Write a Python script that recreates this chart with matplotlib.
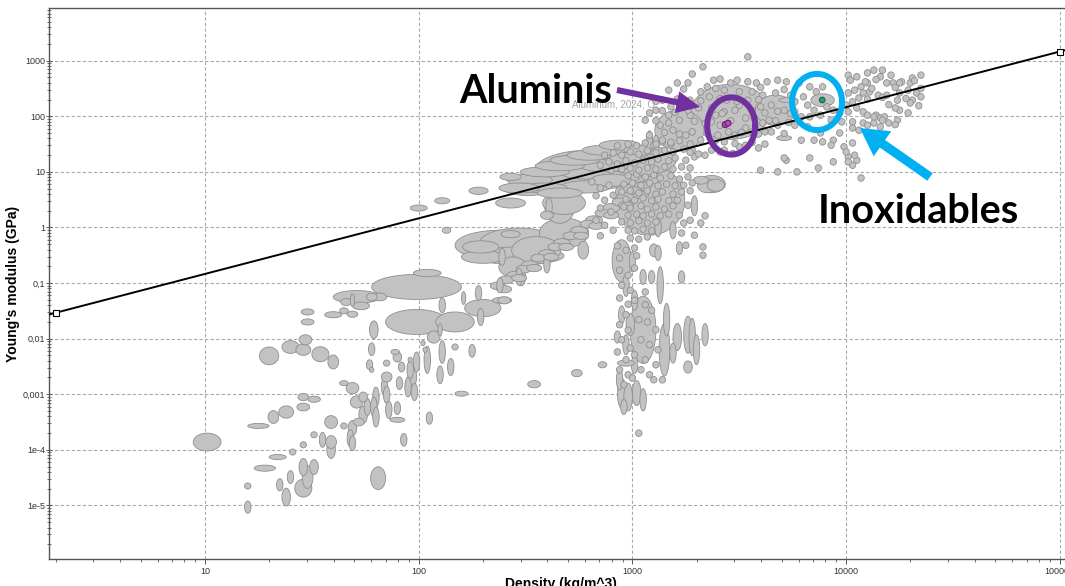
import numpy as np
import matplotlib
matplotlib.use("Agg")
import matplotlib.pyplot as plt
from matplotlib.ticker import FixedLocator, FixedFormatter, LogLocator, NullFormatter

# ---------------------------------------------------------------------------
# Material property envelopes.
# Each entry: (log10 density [kg/m^3], log10 Young's modulus [GPa],
#              density span [decades], modulus span [decades])
# ---------------------------------------------------------------------------
foams_and_fibres = [
    (1.01, -3.86, 0.13, 0.32), (1.20, -4.65, 0.03, 0.11), (1.20, -5.03, 0.03, 0.22),
    (1.28, -4.33, 0.10, 0.11), (1.34, -4.13, 0.08, 0.09), (1.35, -4.63, 0.03, 0.22),
    (1.38, -4.85, 0.04, 0.32), (1.41, -4.04, 0.03, 0.11), (1.40, -4.49, 0.03, 0.23),
    (1.46, -4.69, 0.08, 0.32), (1.48, -4.49, 0.05, 0.41), (1.46, -4.31, 0.04, 0.31),
    (1.51, -4.31, 0.04, 0.27), (1.46, -3.91, 0.03, 0.11), (1.51, -3.73, 0.03, 0.11),
    (1.55, -3.82, 0.03, 0.27), (1.59, -3.86, 0.05, 0.23), (1.59, -4.00, 0.04, 0.31),
    (1.59, -3.50, 0.06, 0.23), (1.65, -3.57, 0.03, 0.11), (1.65, -2.80, 0.04, 0.09),
    (1.69, -2.89, 0.06, 0.20), (1.71, -3.14, 0.06, 0.22), (1.81, -4.51, 0.07, 0.41),
    (1.25, -3.57, 0.10, 0.09), (1.32, -3.41, 0.05, 0.23), (1.38, -3.32, 0.07, 0.22),
    (1.46, -3.23, 0.06, 0.14), (1.46, -3.05, 0.05, 0.13), (1.51, -3.09, 0.06, 0.11),
    (1.30, -2.31, 0.09, 0.32), (1.40, -2.15, 0.08, 0.23), (1.47, -2.02, 0.06, 0.18),
    (1.46, -2.20, 0.07, 0.20), (1.54, -2.28, 0.08, 0.27), (1.60, -2.42, 0.05, 0.25),
    (1.48, -1.52, 0.06, 0.11), (1.48, -1.70, 0.06, 0.11), (1.60, -1.57, 0.08, 0.11),
    (1.65, -1.50, 0.04, 0.11), (1.69, -1.56, 0.05, 0.11), (1.69, -1.31, 0.02, 0.23),
    (1.73, -1.41, 0.08, 0.14), (1.66, -1.34, 0.05, 0.13), (1.71, -1.25, 0.22, 0.23),
    (1.78, -1.25, 0.05, 0.14), (1.82, -1.25, 0.06, 0.14), (1.99, -1.07, 0.42, 0.45),
    (2.04, -0.82, 0.13, 0.13), (1.99, -1.70, 0.29, 0.45), (2.17, -1.70, 0.18, 0.36),
    (1.79, -1.84, 0.04, 0.32), (1.78, -2.19, 0.03, 0.23), (1.77, -2.47, 0.03, 0.18),
    (1.78, -2.56, 0.02, 0.09), (1.85, -2.44, 0.03, 0.11), (1.89, -2.24, 0.04, 0.09),
    (1.90, -2.33, 0.04, 0.18), (1.96, -2.38, 0.02, 0.09), (1.92, -2.51, 0.03, 0.18),
    (1.96, -2.56, 0.03, 0.32), (1.99, -2.42, 0.03, 0.36), (2.04, -2.38, 0.03, 0.49),
    (2.11, -2.24, 0.03, 0.41), (2.10, -2.65, 0.03, 0.32), (2.15, -2.51, 0.03, 0.31),
    (2.25, -2.22, 0.03, 0.23), (2.17, -2.15, 0.03, 0.11), (2.07, -1.97, 0.06, 0.22),
    (2.02, -2.08, 0.02, 0.09), (2.03, -2.20, 0.02, 0.09), (2.10, -1.84, 0.02, 0.22),
    (2.11, -1.40, 0.03, 0.27), (2.28, -1.18, 0.03, 0.27), (2.21, -1.27, 0.02, 0.23),
    (2.30, -1.45, 0.17, 0.31), (2.29, -1.61, 0.03, 0.31), (2.39, -1.31, 0.09, 0.11),
    (2.38, -1.04, 0.03, 0.27), (2.47, -0.89, 0.03, 0.31), (1.85, -2.69, 0.05, 0.18),
    (1.84, -2.87, 0.03, 0.31), (1.85, -3.01, 0.03, 0.31), (1.80, -3.05, 0.03, 0.36),
    (1.79, -3.23, 0.03, 0.36), (1.76, -3.23, 0.03, 0.31), (1.80, -3.41, 0.03, 0.36),
    (1.86, -3.28, 0.03, 0.31), (1.90, -3.25, 0.03, 0.23), (1.90, -3.46, 0.07, 0.09),
    (1.74, -3.37, 0.04, 0.31), (1.72, -3.50, 0.05, 0.14), (1.69, -3.61, 0.04, 0.27),
    (1.68, -3.79, 0.03, 0.31), (1.69, -3.88, 0.03, 0.27), (1.74, -3.05, 0.04, 0.18),
    (1.95, -2.87, 0.03, 0.36), (1.97, -2.69, 0.04, 0.36), (1.98, -2.96, 0.03, 0.31),
    (1.93, -3.82, 0.03, 0.23), (2.05, -3.43, 0.03, 0.22), (2.20, -2.99, 0.06, 0.09),
    (1.91, -2.80, 0.03, 0.23), (2.54, -2.82, 0.06, 0.13), (2.74, -2.62, 0.05, 0.13),
    (2.86, -2.47, 0.04, 0.11),
]

natural_and_composites = [
    (2.00, 0.35, 0.08, 0.11), (2.11, 0.48, 0.07, 0.11), (2.28, 0.66, 0.09, 0.13),
    (2.43, 0.91, 0.10, 0.13), (2.13, -0.05, 0.04, 0.11), (2.51, 0.69, 0.22, 0.23),
    (2.52, 0.85, 0.21, 0.22), (2.59, 1.00, 0.23, 0.18), (2.66, 1.11, 0.23, 0.18),
    (2.73, 1.21, 0.23, 0.18), (2.80, 1.30, 0.21, 0.18), (2.87, 1.39, 0.21, 0.18),
    (2.94, 1.48, 0.19, 0.18), (2.59, 0.71, 0.21, 0.18), (2.68, 0.85, 0.26, 0.22),
    (2.78, 0.98, 0.23, 0.22), (2.87, 1.11, 0.23, 0.22), (2.97, 1.25, 0.21, 0.22),
    (3.04, 1.39, 0.16, 0.18), (2.47, 0.71, 0.19, 0.18), (2.66, 0.62, 0.21, 0.18),
    (2.78, 0.73, 0.23, 0.22), (2.90, 0.85, 0.19, 0.22), (3.08, 1.54, 0.03, 0.40),
    (3.11, 1.48, 0.03, 0.36), (2.80, 1.03, 0.51, 0.72),
    (2.38, -0.32, 0.42, 0.54), (2.47, -0.51, 0.42, 0.32), (2.43, -0.12, 0.09, 0.13),
    (2.29, -0.35, 0.17, 0.22), (2.30, -0.53, 0.20, 0.23), (2.44, -0.71, 0.13, 0.36),
    (2.55, -0.41, 0.23, 0.49), (2.47, -0.28, 0.37, 0.54), (2.68, -0.10, 0.23, 0.54),
    (2.68, 0.44, 0.20, 0.41), (2.66, 0.37, 0.14, 0.59), (2.77, -0.41, 0.05, 0.32),
    (2.61, 0.37, 0.03, 0.32), (2.60, -0.66, 0.03, 0.32), (2.48, -0.89, 0.04, 0.32),
    (2.39, -0.53, 0.03, 0.31), (2.40, -1.31, 0.06, 0.13), (2.60, 0.22, 0.06, 0.15),
    (2.43, 0.44, 0.14, 0.18),
    # woods, along the grain / across the grain
    (2.37, -1.05, 0.07, 0.14), (2.41, -0.94, 0.07, 0.14), (2.45, -0.87, 0.08, 0.16),
    (2.49, -0.75, 0.07, 0.14), (2.52, -0.68, 0.08, 0.16), (2.56, -0.55, 0.07, 0.14),
    (2.60, -0.48, 0.08, 0.16), (2.64, -0.35, 0.07, 0.14), (2.67, -0.28, 0.08, 0.16),
    (2.71, -0.15, 0.07, 0.14), (2.75, -0.06, 0.08, 0.16), (2.79, 0.06, 0.07, 0.14),
    (2.82, 0.13, 0.08, 0.16), (2.86, 0.26, 0.07, 0.14), (2.90, 0.35, 0.08, 0.16),
    (2.94, 0.46, 0.07, 0.14), (2.97, 0.55, 0.08, 0.16), (3.01, 0.66, 0.07, 0.14),
    (3.05, 0.75, 0.08, 0.16), (3.09, 0.85, 0.07, 0.14),
    (2.40, -1.11, 0.07, 0.13), (2.47, -0.91, 0.07, 0.13), (2.54, -0.73, 0.07, 0.13),
    (2.62, -0.53, 0.07, 0.13), (2.69, -0.35, 0.07, 0.13), (2.76, -0.15, 0.07, 0.13),
    (2.83, 0.03, 0.07, 0.13), (2.90, 0.22, 0.07, 0.13), (2.97, 0.40, 0.07, 0.13),
    (3.04, 0.58, 0.07, 0.13),
]

polymers_and_elastomers = [
    (3.08, 0.49, 0.33, 1.26), (3.04, 1.21, 0.33, 0.54),
    (2.95, -0.60, 0.09, 0.76), (3.05, -1.84, 0.12, 1.21), (3.15, -2.20, 0.05, 0.95),
    (3.16, -1.66, 0.03, 0.59), (3.13, -1.04, 0.03, 0.67), (3.19, -2.26, 0.03, 0.36),
    (3.21, -1.97, 0.04, 0.49), (3.26, -1.93, 0.04, 0.67), (3.28, -1.97, 0.03, 0.67),
    (3.30, -2.20, 0.03, 0.54), (3.34, -1.93, 0.03, 0.40), (3.26, -2.51, 0.04, 0.22),
    (3.29, 0.39, 0.03, 0.36), (3.19, -0.05, 0.03, 0.31), (3.22, -0.37, 0.03, 0.23),
    (3.23, -0.89, 0.03, 0.22), (2.93, -1.97, 0.03, 0.22), (2.95, -2.98, 0.04, 0.54),
    (2.98, -3.05, 0.04, 0.50), (3.02, -2.98, 0.04, 0.45), (3.05, -3.10, 0.03, 0.40),
    (2.96, -3.23, 0.03, 0.27), (2.97, -2.44, 0.08, 0.11), (3.12, 0.01, 0.03, 0.36),
    (3.12, -0.46, 0.03, 0.27), (3.05, -0.89, 0.03, 0.27), (3.09, -0.89, 0.03, 0.23),
    (3.10, -0.41, 0.04, 0.23), (3.37, 0.78, 0.13, 0.31), (3.35, 0.75, 0.09, 0.25),
    (3.39, 0.76, 0.08, 0.22), (3.32, 0.85, 0.07, 0.14),
    (3.00, -0.62, 0.03, 0.36), (2.97, -1.04, 0.03, 0.40), (3.01, -1.31, 0.03, 0.36),
    (2.95, -1.57, 0.03, 0.32), (2.99, -1.75, 0.04, 0.40), (2.97, -2.11, 0.03, 0.36),
    (3.01, -2.47, 0.03, 0.32), (2.94, -2.74, 0.03, 0.36),
]

metals_and_ceramics = [
    (3.46, 2.08, 0.37, 0.99), (3.22, 1.75, 0.23, 0.72), (3.67, 2.11, 0.19, 0.54),
    (3.73, 2.29, 0.09, 0.09), (3.71, 1.61, 0.07, 0.09), (3.89, 2.29, 0.11, 0.23),
]

# Individual grades with narrow property ranges: (log10 density, log10 modulus)
polymer_grades = [
    (2.98, 0.93), (3.02, 0.96), (3.06, 0.91), (3.10, 0.94), (3.13, 0.89), (3.18, 0.93),
    (3.22, 0.87), (3.26, 0.91), (2.96, 0.78), (3.00, 0.80), (3.04, 0.76), (3.08, 0.80),
    (3.12, 0.75), (3.16, 0.78), (3.20, 0.75), (3.24, 0.76), (3.28, 0.80), (2.95, 0.64),
    (2.99, 0.66), (3.03, 0.62), (3.07, 0.66), (3.11, 0.60), (3.14, 0.64), (3.19, 0.60),
    (3.23, 0.64), (3.27, 0.66), (2.97, 0.51), (3.01, 0.49), (3.05, 0.53), (3.09, 0.48),
    (3.12, 0.51), (3.17, 0.48), (3.21, 0.49), (2.96, 0.37), (2.99, 0.35), (3.04, 0.39),
    (3.07, 0.33), (3.11, 0.37), (3.15, 0.33), (3.19, 0.39), (2.98, 0.22), (3.02, 0.24),
    (3.05, 0.21), (3.09, 0.24), (3.13, 0.21), (3.17, 0.24), (2.95, 0.10), (2.99, 0.08),
    (3.03, 0.12), (3.07, 0.08), (3.11, 0.10), (2.98, -0.05), (3.01, -0.06), (3.05, -0.03),
    (3.09, -0.06), (2.99, -0.19), (3.03, -0.21), (3.07, -0.17),
    (2.85, 1.12), (2.89, 1.18), (2.93, 1.14), (2.97, 1.20), (3.01, 1.16), (3.05, 1.21),
    (3.09, 1.18), (3.12, 1.23), (3.17, 1.20), (3.20, 1.25), (3.25, 1.21), (3.29, 1.27),
    (2.90, 1.03), (2.95, 1.05), (2.99, 1.07), (3.03, 1.03), (3.07, 1.07), (3.11, 1.05),
    (3.15, 1.09), (3.19, 1.05), (3.23, 1.09), (3.27, 1.07), (2.87, 1.30), (2.91, 1.34),
    (2.95, 1.30), (2.99, 1.36), (3.03, 1.32), (3.07, 1.38), (3.11, 1.34), (3.15, 1.39),
    (3.19, 1.36), (3.24, 1.41), (3.28, 1.39), (2.93, 1.47), (2.98, 1.50), (3.02, 1.47),
    (3.06, 1.52), (3.10, 1.48), (3.14, 1.54), (3.18, 1.50), (3.22, 1.56),
    (2.81, 0.82), (2.85, 0.71), (2.89, 0.76), (2.83, 0.57), (2.87, 0.49), (2.91, 0.58),
    (2.85, 0.35), (2.90, 0.28), (2.83, 0.13), (2.87, 0.04), (2.91, -0.05), (2.85, -0.15),
    (2.93, -0.33), (2.97, -0.41), (3.01, -0.37), (2.94, -0.55), (3.02, -0.51), (2.94, -0.77),
    (2.98, -0.86), (3.01, -0.73), (2.95, -1.04), (2.99, -1.13), (2.94, -1.27), (2.98, -1.38),
    (2.97, -1.57), (2.94, -1.75), (2.98, -1.85), (2.95, -2.02), (2.99, -2.17), (2.93, -2.24),
    (2.97, -2.38), (2.94, -2.56), (2.98, -2.65), (2.96, -2.83),
    (3.01, -1.31), (3.06, -1.39), (3.09, -1.49), (3.03, -1.66), (3.07, -1.70), (3.11, -1.84),
    (3.04, -2.02), (3.08, -2.11), (3.01, -2.29), (3.06, -2.38), (3.11, -2.47), (3.04, -2.56),
    (3.08, -2.65), (3.00, -2.71), (3.12, -2.20), (3.06, -1.16),
    (3.23, -0.10), (3.24, 0.08), (3.22, 0.22), (3.32, 0.08), (3.34, 0.21), (3.33, -0.35),
    (3.33, -0.50), (3.10, -2.74), (3.14, -2.74), (3.03, -3.70),
    (3.26, 0.40), (3.27, 0.13), (3.29, -0.14), (3.25, -0.32),
]

metal_ceramic_grades = [
    (3.54, 3.07), (3.33, 2.89), (3.28, 2.76), (3.26, 2.60), (3.21, 2.60), (3.17, 2.47),
    (3.38, 2.65), (3.41, 2.67), (3.46, 2.60), (3.49, 2.65), (3.54, 2.62), (3.58, 2.60),
    (3.63, 2.62), (3.68, 2.65), (3.72, 2.62), (3.78, 2.60), (3.83, 2.53), (3.89, 2.53),
    (3.43, 2.47), (3.50, 2.44), (3.56, 2.44), (3.61, 2.38), (3.67, 2.42), (3.74, 2.38),
    (3.32, 2.44), (3.36, 2.35), (3.27, 2.29), (3.22, 2.20), (3.31, 2.15), (3.37, 2.15),
    (3.54, 2.29), (3.60, 2.17), (3.65, 2.20), (3.71, 2.11), (3.76, 2.08), (3.57, 1.97),
    (3.64, 1.93), (3.68, 1.84), (3.62, 1.72), (3.56, 1.72), (3.53, 1.48), (3.59, 1.43),
    (3.27, 2.02), (3.22, 1.93), (3.17, 2.02), (3.13, 1.84), (3.19, 1.75), (3.25, 1.66),
    (3.32, 1.57), (3.14, 1.57), (3.08, 1.66), (3.11, 2.11), (3.06, 1.93), (3.14, 2.29),
    (3.18, 2.17), (3.39, 1.57), (3.37, 1.39), (3.34, 1.30), (3.43, 1.39), (3.50, 1.45),
    (3.39, 2.02), (3.43, 2.08), (3.48, 2.11), (3.53, 1.97), (3.41, 1.84), (3.48, 1.66),
    (3.53, 1.79), (3.45, 1.72), (3.40, 1.66), (3.50, 2.20), (3.44, 2.29), (3.37, 1.90),
    (3.80, 2.35), (3.86, 2.44), (3.82, 2.20), (3.85, 2.11), (3.91, 2.17), (3.94, 2.11),
    (3.79, 1.99), (3.83, 1.99), (3.88, 2.02), (3.93, 1.93), (3.76, 1.84), (3.82, 1.81),
    (3.79, 1.57), (3.85, 1.57), (3.88, 1.70), (3.89, 1.54), (3.94, 1.57), (3.97, 1.70),
    (3.99, 1.45), (4.03, 1.52), (4.01, 1.27), (4.05, 1.21), (4.03, 1.12), (3.72, 1.21),
    (3.83, 1.25), (3.87, 1.07), (3.68, 1.00), (3.77, 1.00), (3.94, 1.18), (4.01, 1.18),
    (4.07, 0.89), (4.00, 1.36), (4.04, 1.30), (3.71, 1.25), (3.93, 1.48), (4.06, 1.75),
    (3.60, 1.03),
    (3.24, 2.49), (3.35, 2.53), (3.39, 2.50), (3.60, 2.52), (3.71, 2.48),
    (3.11, 2.27), (3.21, 2.31), (3.32, 2.28), (3.41, 2.32), (3.49, 2.27), (3.59, 2.30),
    (3.76, 2.26), (3.08, 2.06), (3.14, 2.10), (3.20, 2.07), (3.26, 2.11), (3.42, 2.05),
    (3.56, 2.10), (3.62, 2.06), (3.68, 2.09), (3.74, 2.05), (3.11, 1.92), (3.17, 1.88),
    (3.29, 1.91), (3.34, 1.87), (3.46, 1.92), (3.61, 1.88), (3.67, 1.92), (3.73, 1.89),
    (3.15, 1.71), (3.22, 1.68), (3.28, 1.72), (3.35, 1.69), (3.51, 1.71), (3.59, 1.68),
    (3.65, 1.72), (3.71, 1.69), (3.11, 1.50), (3.18, 1.53), (3.27, 1.50), (3.43, 1.54),
    (3.48, 1.51), (3.56, 1.53), (3.62, 1.50), (3.27, 1.35), (3.31, 1.32), (3.41, 1.36),
    (3.47, 1.33),
    (4.01, 2.74), (4.05, 2.71), (4.10, 2.78), (4.13, 2.83), (4.17, 2.83), (4.21, 2.74),
    (4.10, 2.60), (4.07, 2.53), (4.08, 2.42), (4.22, 2.60), (4.26, 2.62), (4.30, 2.60),
    (4.35, 2.74), (4.31, 2.69), (4.29, 2.47), (4.33, 2.42), (4.25, 2.42), (4.24, 2.29),
    (4.31, 2.29), (4.30, 2.24), (4.29, 2.06), (4.25, 2.11), (4.23, 2.15), (4.19, 2.38),
    (4.15, 2.38), (4.11, 2.44), (4.04, 2.47), (4.01, 2.42), (4.03, 2.26), (4.05, 2.15),
    (4.01, 2.08), (3.97, 2.06), (3.98, 1.90), (4.03, 1.90), (4.03, 1.79), (4.08, 2.08),
    (4.10, 2.02), (4.14, 2.02), (4.16, 1.97), (4.18, 1.99), (4.20, 1.88), (4.16, 1.81),
    (4.13, 1.88), (4.08, 1.88), (4.13, 1.99), (4.17, 1.93), (4.24, 1.93), (4.09, 2.62),
    (4.16, 2.71), (4.25, 2.60), (4.19, 2.60),
    (4.02, 2.65), (4.14, 2.66), (4.32, 2.64), (4.12, 2.50), (4.23, 2.52), (4.35, 2.50),
    (4.06, 2.33), (4.10, 2.31), (4.17, 2.34), (4.28, 2.32), (4.35, 2.35), (4.00, 2.20),
    (4.20, 2.21), (4.34, 2.19), (4.10, 1.84), (4.23, 1.85),
]
GRADE_SPAN = (0.030, 0.118)   # density / modulus spread of a single grade, decades

# Highlighted materials (density kg/m^3, modulus GPa)
aluminium_2024_O = [(2720, 71), (2800, 75)]
stainless_steel = (7730, 196)

# Guide line E/rho = constant, with its two anchor points
guide_density = [2, 100000]
guide_modulus = [0.0292, 1460]

# Axis ticks
x_ticks = [10, 100, 1000, 10000, 100000]
x_tick_labels = ["10", "100", "1000", "10000", "100000"]
y_ticks = [1e-5, 1e-4, 1e-3, 1e-2, 1e-1, 1, 10, 100, 1000]
y_tick_labels = ["1e-5", "1e-4", "0,001", "0,01", "0,1", "1", "10", "100", "1000"]

BUBBLE_FACE = "#c2c2c2"
BUBBLE_EDGE = "#8e8e8e"
PURPLE = "#7030a0"
CYAN = "#00b0f0"


def ellipse_xy(log_rho, log_e, span_rho, span_e, n=72):
    """Outline of an envelope that is elliptical in log-log space."""
    t = np.linspace(0.0, 2.0 * np.pi, n)
    x = 10.0 ** (log_rho + 0.5 * span_rho * np.cos(t))
    y = 10.0 ** (log_e + 0.5 * span_e * np.sin(t))
    return x, y


fig = plt.figure(figsize=(10.65, 5.86), dpi=100)
fig.patch.set_facecolor("white")
ax = fig.add_axes([49 / 1065, 27 / 586, (1072 - 49) / 1065, 551 / 586])
ax.set_xscale("log")
ax.set_yscale("log")
ax.set_xlim(10 ** 0.270, 10 ** 5.057)
ax.set_ylim(10 ** -5.964, 10 ** 3.948)

# envelopes: large ones first so that small grades stay visible on top
envelopes = (foams_and_fibres + natural_and_composites
             + polymers_and_elastomers + metals_and_ceramics)
envelopes += [(r, e, GRADE_SPAN[0], GRADE_SPAN[1]) for r, e in polymer_grades]
envelopes += [(r, e, GRADE_SPAN[0], GRADE_SPAN[1]) for r, e in metal_ceramic_grades]
envelopes.sort(key=lambda env: env[2] * env[3], reverse=True)
for lr, le, sr, se in envelopes:
    x, y = ellipse_xy(lr, le, sr, se)
    ax.fill(x, y, facecolor=BUBBLE_FACE, edgecolor=BUBBLE_EDGE, linewidth=0.6, zorder=2)

# highlighted grades
for rho, e in aluminium_2024_O:
    x, y = ellipse_xy(np.log10(rho), np.log10(e), 0.028, 0.108)
    ax.fill(x, y, facecolor="#b04fb0", edgecolor="#6a1a7a", linewidth=0.8, zorder=4)
x, y = ellipse_xy(np.log10(stainless_steel[0]), np.log10(stainless_steel[1]), 0.026, 0.10)
ax.fill(x, y, facecolor="#2a9d80", edgecolor="#17604f", linewidth=0.8, zorder=4)

# guide line
ax.axline((guide_density[0], guide_modulus[0]), (guide_density[1], guide_modulus[1]),
          color="black", linewidth=1.4, zorder=5)
ax.plot(guide_density, guide_modulus, linestyle="none", marker="s", markersize=4,
        markerfacecolor="white", markeredgecolor="black", markeredgewidth=0.8,
        zorder=6, clip_on=False)

# label of the selected record
ax.text(813, 166, "Aluminum, 2024, O", fontsize=7, color="#a4a4a4",
        family="Liberation Sans", ha="center", va="center", zorder=7)

# grid, ticks, spines
ax.set_axisbelow(True)
ax.grid(True, which="major", linestyle=(0, (3, 2)), color="#a9a9a9", linewidth=0.8)
ax.xaxis.set_major_locator(FixedLocator(x_ticks))
ax.xaxis.set_major_formatter(FixedFormatter(x_tick_labels))
ax.yaxis.set_major_locator(FixedLocator(y_ticks))
ax.yaxis.set_major_formatter(FixedFormatter(y_tick_labels))
ax.xaxis.set_minor_locator(LogLocator(base=10, subs=np.arange(2, 10)))
ax.yaxis.set_minor_locator(LogLocator(base=10, subs=np.arange(2, 10), numticks=20))
ax.xaxis.set_minor_formatter(NullFormatter())
ax.yaxis.set_minor_formatter(NullFormatter())
ax.tick_params(axis="x", which="major", direction="out", length=3.5, width=0.7,
               color="#555555", labelsize=6.5, labelcolor="#333333", pad=2)
ax.tick_params(axis="x", which="minor", direction="out", length=2.5, width=0.6,
               color="#555555")
ax.tick_params(axis="y", which="major", direction="inout", length=4, width=0.7,
               color="#555555", labelsize=6.5, labelcolor="#333333", pad=1)
ax.tick_params(axis="y", which="minor", direction="inout", length=2.5, width=0.6,
               color="#555555")
for lab in ax.get_xticklabels() + ax.get_yticklabels():
    lab.set_family("Liberation Sans")
for side in ("left", "bottom", "top"):
    ax.spines[side].set_color("#555555")
    ax.spines[side].set_linewidth(1.0)
ax.spines["right"].set_visible(False)

ax.set_xlabel("Density (kg/m^3)", fontsize=10, fontweight="bold",
              family="Liberation Sans", labelpad=1)
ax.set_ylabel("Young's modulus (GPa)", fontsize=10, fontweight="bold",
              family="Liberation Sans", labelpad=2)

# call-outs
aluminium_ring = (2900, 67, 0.225, 1.03)
stainless_ring = (7310, 181, 0.234, 1.01)
for (rho, e, sr, se), col in ((aluminium_ring, PURPLE), (stainless_ring, CYAN)):
    x, y = ellipse_xy(np.log10(rho), np.log10(e), sr, se, n=180)
    ax.plot(x, y, color=col, linewidth=4.3, zorder=8, solid_capstyle="round")

ax.annotate("", xy=(2075, 147), xytext=(847, 297),
            arrowprops=dict(arrowstyle="simple,head_length=0.85,head_width=0.8,tail_width=0.22",
                            mutation_scale=20, color=PURPLE, lw=0, shrinkA=0, shrinkB=0),
            zorder=9)
ax.annotate("", xy=(11600, 61.5), xytext=(24700, 8.1),
            arrowprops=dict(arrowstyle="simple,head_length=0.9,head_width=1.0,tail_width=0.3",
                            mutation_scale=22, color=CYAN, lw=0, shrinkA=0, shrinkB=0),
            zorder=9)

ax.text(354, 173, "Aluminis", fontsize=28.5, fontweight="bold", family="Lato",
        color="black", ha="center", va="baseline", zorder=10)
ax.text(21900, 1.20, "Inoxidables", fontsize=28.5, fontweight="bold", family="Lato",
        color="black", ha="center", va="baseline", zorder=10)

fig.savefig("out.png", dpi=100)
